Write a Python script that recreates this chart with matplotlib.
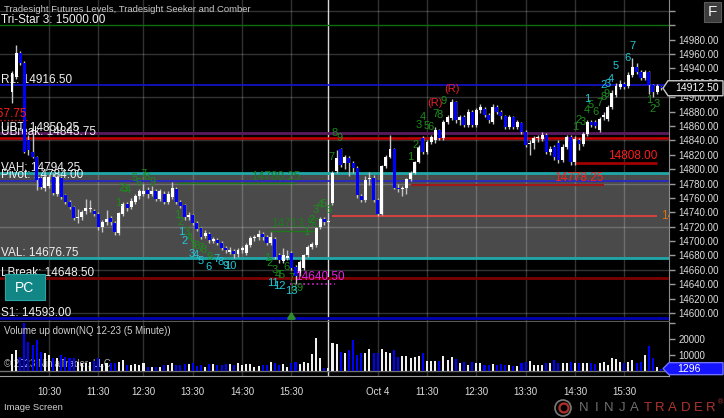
import matplotlib
matplotlib.use("Agg")
import matplotlib.pyplot as plt
from matplotlib.patches import Rectangle, Polygon, Circle
from matplotlib.transforms import blended_transform_factory, IdentityTransform

plt.rcParams['font.family'] = ['Liberation Sans', 'DejaVu Sans']

# ---------------- data ----------------
# 5 minute NQ 12-23 bars, session 1 (Oct 3) then session 2 (Oct 4)
d1_open = [14907, 14928, 14961, 14948, 14840, 14824, 14817, 14788, 14774, 14777,
           14789, 14765, 14788, 14764, 14754, 14747, 14732, 14733, 14742, 14744,
           14742, 14737, 14720, 14727, 14732, 14725, 14711, 14737, 14752, 14748,
           14755, 14762, 14766, 14771, 14766, 14769, 14759, 14766, 14755, 14761,
           14772, 14754, 14750, 14733, 14736, 14725, 14718, 14707, 14710, 14700,
           14701, 14697, 14690, 14685, 14686, 14682, 14688, 14683, 14694, 14704,
           14705, 14710, 14705, 14697, 14703, 14680, 14673, 14677, 14683, 14664,
           14655, 14663, 14681, 14692, 14695, 14720, 14731, 14727]
d1_close = [14934, 14961, 14948, 14824, 14826, 14817, 14785, 14775, 14789, 14789,
            14767, 14789, 14761, 14754, 14747, 14732, 14734, 14740, 14746, 14746,
            14738, 14720, 14726, 14731, 14727, 14712, 14739, 14752, 14746, 14756,
            14762, 14769, 14769, 14765, 14770, 14759, 14769, 14755, 14766, 14774,
            14754, 14749, 14733, 14736, 14725, 14717, 14706, 14711, 14701, 14703,
            14697, 14690, 14687, 14688, 14682, 14687, 14690, 14694, 14704, 14706,
            14710, 14705, 14697, 14705, 14678, 14674, 14680, 14679, 14663, 14651,
            14671, 14680, 14692, 14696, 14718, 14731, 14726, 14728]
d1_high = [14937, 14973, 14964, 14950, 14848, 14850, 14819, 14790, 14792, 14792,
           14795, 14792, 14790, 14766, 14757, 14749, 14745, 14743, 14758, 14757,
           14745, 14740, 14729, 14743, 14735, 14728, 14741, 14755, 14755, 14760,
           14765, 14772, 14780, 14775, 14776, 14772, 14772, 14770, 14770, 14782,
           14775, 14757, 14752, 14740, 14738, 14728, 14720, 14715, 14713, 14706,
           14704, 14700, 14693, 14692, 14689, 14690, 14693, 14697, 14707, 14709,
           14716, 14713, 14708, 14712, 14706, 14683, 14690, 14688, 14686, 14667,
           14674, 14682, 14694, 14699, 14720, 14734, 14733, 14729]
d1_low = [14892, 14926, 14945, 14822, 14820, 14815, 14771, 14772, 14770, 14774,
          14764, 14762, 14758, 14751, 14744, 14729, 14725, 14730, 14738, 14740,
          14735, 14716, 14712, 14722, 14723, 14708, 14708, 14735, 14742, 14745,
          14752, 14758, 14762, 14760, 14762, 14756, 14756, 14752, 14752, 14758,
          14752, 14746, 14730, 14730, 14722, 14714, 14703, 14704, 14698, 14697,
          14694, 14687, 14684, 14682, 14676, 14678, 14684, 14680, 14692, 14700,
          14702, 14702, 14694, 14694, 14675, 14670, 14670, 14674, 14660, 14640.5,
          14652, 14660, 14678, 14689, 14692, 14717, 14722, 14725]
d1_volume = [10200, 12900, 8800, 29600, 18100, 16000, 19200, 11900, 10800, 9800,
             7700, 7700, 9800, 8800, 7700, 7700, 5600, 4600, 4600, 5600,
             6000, 7700, 4000, 4600, 4600, 4600, 5600, 6700, 3500, 3500,
             4000, 3500, 4600, 2500, 2500, 2500, 2500, 3500, 3500, 4600,
             3500, 3500, 4000, 4000, 4600, 3100, 3500, 2500, 4000, 4000,
             3500, 3500, 4000, 4000, 3500, 4600, 3500, 4000, 4000, 2500,
             2900, 3500, 3500, 5200, 4600, 3500, 4000, 2500, 4600, 5600,
             4000, 5600, 4600, 10200, 20600, 7700, 1500, 1500]

d2_open = [14753, 14797, 14828, 14808, 14816, 14808, 14802, 14763, 14757, 14786,
           14788, 14757, 14738, 14804, 14817, 14828, 14774, 14772, 14774, 14786,
           14795, 14810, 14843, 14824, 14838, 14840, 14854, 14843, 14866, 14871,
           14893, 14868, 14872, 14861, 14880, 14861, 14882, 14884, 14876, 14866,
           14887, 14880, 14874, 14859, 14872, 14859, 14864, 14852, 14835, 14836,
           14843, 14842, 14848, 14824, 14831, 14837, 14813, 14831, 14845, 14810,
           14840, 14835, 14849, 14866, 14866, 14854, 14872, 14870, 14886, 14903,
           14914, 14919, 14916, 14931, 14942, 14935, 14927, 14935, 14917, 14907,
           14914]
d2_close = [14795, 14816, 14806, 14817, 14808, 14802, 14764, 14757, 14785, 14788,
            14757, 14738, 14804, 14817, 14828, 14774, 14772, 14773, 14786, 14795,
            14810, 14831, 14824, 14838, 14845, 14855, 14843, 14866, 14872, 14893,
            14868, 14872, 14861, 14880, 14861, 14882, 14886, 14875, 14868, 14887,
            14880, 14874, 14859, 14872, 14859, 14866, 14852, 14834, 14836, 14843,
            14845, 14848, 14824, 14828, 14817, 14813, 14831, 14845, 14810, 14842,
            14835, 14849, 14866, 14862, 14860, 14870, 14876, 14886, 14906, 14916,
            14919, 14914, 14931, 14942, 14935, 14927, 14935, 14917, 14907, 14916,
            14912.5]
d2_high = [14798, 14827, 14830, 14820, 14818, 14812, 14805, 14766, 14790, 14796,
           14792, 14760, 14806, 14820, 14847, 14830, 14780, 14776, 14788, 14797,
           14812, 14833, 14846, 14841, 14848, 14858, 14856, 14868, 14875, 14897,
           14895, 14876, 14875, 14884, 14882, 14885, 14890, 14886, 14878, 14890,
           14889, 14882, 14876, 14875, 14874, 14869, 14866, 14854, 14840, 14846,
           14848, 14852, 14850, 14832, 14834, 14840, 14835, 14848, 14847, 14846,
           14844, 14852, 14869, 14869, 14868, 14873, 14880, 14889, 14910, 14920,
           14924, 14921, 14935, 14955, 14947, 14938, 14938, 14937, 14919, 14918,
           14916]
d2_low = [14750, 14795, 14803, 14800, 14790, 14795, 14760, 14755, 14755, 14778,
          14755, 14735, 14736, 14802, 14815, 14772, 14768, 14762, 14766, 14784,
          14793, 14808, 14821, 14821, 14835, 14836, 14840, 14840, 14863, 14868,
          14864, 14862, 14858, 14858, 14858, 14858, 14878, 14872, 14864, 14863,
          14877, 14870, 14856, 14856, 14856, 14856, 14849, 14831, 14820, 14828,
          14838, 14839, 14821, 14820, 14813, 14808, 14810, 14828, 14806, 14806,
          14826, 14832, 14846, 14858, 14857, 14851, 14868, 14867, 14883, 14900,
          14911, 14911, 14913, 14928, 14932, 14924, 14924, 14905, 14900, 14904,
          14910]
d2_volume = [17500, 17000, 12000, 11000, 13000, 19000, 10000, 11000,
             11300, 13400, 10900, 11300, 13400, 11900, 11300, 12900, 8800, 9200,
             9200, 7700, 8300, 9200, 10900, 6300, 6300, 6300, 6300, 9200,
             6700, 8300, 7100, 5000, 5400, 3600, 5600, 4600, 5000, 3600,
             3600, 4200, 3600, 4200, 3600, 3600, 3000, 3000, 5000, 5600,
             6300, 3600, 3600, 3600, 5000, 5000, 6700, 4600, 5000, 5000,
             5600, 5000, 5000, 4600, 4600, 4600, 4200, 4600, 5600, 3600,
             7700, 7100, 5600, 4600, 5600, 6700, 4600, 5600, 9800, 15400,
             7700, 2500, 1296]

opens = d1_open + d2_open
closes = d1_close + d2_close
highs = d1_high + d2_high
lows = d1_low + d2_low
volumes = d1_volume + d2_volume
session_break = len(d1_open) - 1

time_ticks = [9, 21, 32, 44, 56, 68, 89, 101, 113, 125, 137, 149]
time_labels = ["10:30", "11:30", "12:30", "13:30", "14:30", "15:30",
               "Oct 4", "11:30", "12:30", "13:30", "14:30", "15:30"]

# Tradesight futures levels
level_names = ["Tri-Star 3", "R1", "UBT", "UBreak", "VAH", "Pivot", "VAL", "LBreak", "S1"]
level_values = [15000.00, 14916.50, 14850.25, 14843.75, 14794.25, 14784.00, 14676.75, 14648.50, 14593.00]
level_colors = ['#0c6e0c', '#1414d2', '#5a1a5e', '#c80000', '#1fa8a8', '#2828c8', '#1fa8a8', '#7c0000', '#0000b4']
level_widths = [1.0, 1.2, 2.0, 1.8, 2.0, 1.3, 2.0, 2.0, 2.0]

# Seeker / Comber counts: text, bar, price, kind
sig_text = ["1", "2", "3", "4", "5", "6", "7", "8", "9",
            "1", "2", "3", "4", "5", "6", "7", "8", "9",
            "1", "2", "3", "4", "5", "6", "7", "8", "9", "10",
            "1", "2", "3", "4", "5", "6", "7", "8", "9",
            "11", "12", "13",
            "1", "2", "3", "4", "5", "6", "7", "8", "9",
            "1", "2", "3", "4", "5", "6", "7", "8", "9", "(R)", "(R)",
            "1", "2", "3", "4", "5", "6", "7", "8", "9",
            "1", "2", "3", "4", "5", "6", "7",
            "1", "2", "3"]
sig_bar = [25.8, 26.6, 27.4, 28.1, 29.9, 30.9, 31.9, 32.8, 34.1,
           40.1, 41.1, 42.4, 43.2, 44.1, 45.0, 45.9, 46.7, 48.0,
           41.1, 41.9, 43.7, 44.8, 45.9, 47.9, 49.7, 50.8, 51.9, 53.2,
           62.1, 62.8, 64.0, 64.8, 65.7, 66.9, 68.1, 68.6, 70.1,
           63.6, 65.0, 67.9,
           71.7, 73.0, 73.9, 75.0, 75.8, 77.0, 77.8, 78.6, 79.8,
           97.0, 98.1, 98.9, 99.9, 100.8, 101.8, 103.0, 104.0, 105.0, 103.0, 107.0,
           137.0, 137.9, 138.9, 139.9, 140.9, 141.9, 142.9, 144.0, 144.8,
           140.0, 144.0, 144.9, 145.7, 146.8, 149.8, 150.9,
           155.1, 155.9, 156.9]
sig_price = [14753, 14774, 14772, 14771, 14788, 14781, 14793, 14789, 14782,
             14736, 14727, 14713, 14704, 14695, 14693, 14691, 14688, 14678,
             14713, 14700.5, 14682, 14681, 14673, 14664, 14675, 14671, 14665, 14665,
             14676, 14669, 14660, 14653, 14653, 14664, 14648, 14635, 14635,
             14642, 14637, 14631,
             14713, 14729, 14743, 14750, 14751.5, 14743, 14817, 14850, 14843,
             14817, 14834, 14861, 14873, 14860, 14859, 14877, 14875, 14895, 14892, 14911,
             14859, 14868, 14866, 14882, 14889, 14880, 14892, 14901, 14905,
             14897, 14917, 14918, 14926, 14943, 14954, 14971,
             14896, 14883, 14891]
sig_kind = (["seek"] * 9 + ["seek"] * 9 + ["comb"] * 10 + ["seek"] * 9 + ["comb"] * 3 +
            ["seek"] * 9 + ["seek"] * 9 + ["risk"] * 2 + ["seek"] * 9 + ["comb"] * 7 + ["seek"] * 3)
kind_color = {"seek": "#1c8c1c", "comb": "#22c8d8", "risk": "#e8202a"}

# ---------------- figure ----------------
W, H = 724, 418
fig = plt.figure(figsize=(W / 100, H / 100), dpi=100, facecolor='black')


def fx(px):
    return px / W


def fy(py):
    return 1 - py / H


ax = fig.add_axes([0, fy(321), fx(669), 321 / H], facecolor='black')
axv = fig.add_axes([0, fy(376), fx(669), 54 / H], facecolor='black', sharex=ax)

ax.set_xlim(-2.92, 159.9)
ax.set_ylim(14588.9, 15035.2)
axv.set_ylim(-3310, 30440)

# value area + grid
ax.axhspan(level_values[6], level_values[4], color='#4a4a4a', lw=0, zorder=1)
for p in range(14600, 15021, 60):
    ax.axhline(p, color='white', alpha=0.2, lw=1, zorder=2)
for t in time_ticks:
    ax.axvline(t, color='white', alpha=0.2, lw=1, zorder=2)
    axv.axvline(t, color='white', alpha=0.2, lw=1, zorder=1)
ax.axvline(session_break, color='#d8d8d8', lw=1, zorder=2.5)
axv.axvline(session_break, color='#d8d8d8', lw=1, zorder=1.5)

# levels
ymix = blended_transform_factory(ax.transAxes, ax.transData)
for name, val, col, lw in zip(level_names, level_values, level_colors, level_widths):
    ax.axhline(val, color=col, lw=lw, zorder=3)
    ax.annotate(f"{name}: {val:.2f}", xy=(0, val), xycoords=ymix, xytext=(0.8, 1.6),
                textcoords='offset points', ha='left', va='baseline',
                color='#f0f0f0', fontsize=8.5, zorder=4)

# extra drawn levels
ax.hlines(14808.00, 137, 157, color='#a00000', lw=2, zorder=3)
ax.text(157, 14810, "14808.00", color='#ff1a1a', fontsize=8.5, ha='right', va='bottom', zorder=6)
ax.hlines(14778.25, 97, 144, color='#a01818', lw=1.5, zorder=3)
ax.text(144, 14780, "14778.25", color='#ff2020', fontsize=8.5, ha='right', va='bottom', zorder=3.5)
ax.hlines(14735.0, 77.8, 157, color='#f04040', lw=1.2, zorder=3)
ax.text(158, 14735, "14735.00", color='#e07010', fontsize=8.5, ha='left', va='center',
        zorder=6, clip_on=True)
ax.hlines(14780.25, 40.2, 68.9, color='#1c7a1c', lw=1, zorder=3)
ax.text(64.3, 14781, "14780.25", color='#1c7a1c', fontsize=8.5, ha='center', va='bottom', zorder=3.5)
ax.hlines(14713.50, 62.8, 73.8, color='#1c7a1c', lw=1, zorder=3)
ax.text(69.0, 14715, "14713.50", color='#1c7a1c', fontsize=8.5, ha='center', va='bottom', zorder=3.5)
ax.hlines(14640.50, 67.7, 78.6, color='#d020d0', lw=1.2, ls=':', zorder=6)
ax.text(68.9, 14641.5, "14640.50", color='#e020e0', fontsize=8.5, ha='left', va='bottom', zorder=6)
ax.hlines(14867.75, -3, 3.6, color='#e01010', lw=1, ls=':', zorder=6)
ax.text(3.6, 14869, "14867.75", color='#ff1a1a', fontsize=8.5, ha='right', va='bottom',
        zorder=6, clip_on=True)

# candles
bars = list(range(len(opens)))
up = [c >= o for o, c in zip(opens, closes)]
body_col = ['#ffffff' if u else '#0000ff' for u in up]
ax.vlines(bars, lows, highs, color='#c4c4c4', lw=1, zorder=5)
ax.bar(bars, [max(abs(c - o), 1.3) for o, c in zip(opens, closes)],
       bottom=[min(o, c) for o, c in zip(opens, closes)],
       width=0.72, color=body_col, lw=0, zorder=5.5)

# seeker / comber labels
for t, b, p, k in zip(sig_text, sig_bar, sig_price, sig_kind):
    ax.text(b, p, t, color=kind_color[k], fontsize=8, ha='center', va='center', zorder=7)

# up arrow under the low
ax.annotate("", xy=(68, 14606), xytext=(68, 14591),
            arrowprops=dict(arrowstyle='-|>,head_width=0.22,head_length=0.35',
                            color='#2e8b2e', lw=1.8), zorder=7)

# volume
vol_col = ['#f0f0f0' if u else '#0000ff' for u in up]
axv.bar(bars, volumes, width=0.5, color=vol_col, lw=0, zorder=3)
axv.axhline(0, color='#707070', lw=1, zorder=2)
axv.text(0.006, 0.83, "Volume up down(NQ 12-23 (5 Minute))", transform=axv.transAxes,
         color='#cfcfcf', fontsize=7, ha='left', va='center', zorder=5)
axv.text(0.006, 0.22, "\u00a9 2023 NinjaTrader, LLC", transform=axv.transAxes,
         color='#a8a8a8', fontsize=7, ha='left', va='center', zorder=2.5)

# axes styling
for a in (ax, axv):
    for s in ('top', 'left'):
        a.spines[s].set_visible(False)
    a.spines['right'].set_color('#8a8a8a')
    a.yaxis.tick_right()
ax.spines['bottom'].set_color('#5a5a5a')
axv.spines['bottom'].set_color('#a0a0a0')

price_ticks = list(range(14600, 15021, 20))
ax.set_yticks(price_ticks)
ax.set_yticklabels([f"{p:.2f}" if p <= 14980 else "" for p in price_ticks])
ax.tick_params(axis='y', colors='#9a9a9a', labelcolor='#dedede', labelsize=7,
               length=4, width=1, pad=3)
ax.tick_params(axis='x', bottom=False, labelbottom=False)

axv.set_yticks([10000, 20000, 30000])
axv.set_yticklabels(["10000", "20000", ""])
axv.tick_params(axis='y', colors='#9a9a9a', labelcolor='#dedede', labelsize=7,
                length=4, width=1, pad=3)
axv.set_xticks(time_ticks)
axv.set_xticklabels(time_labels)
axv.tick_params(axis='x', length=0, labelcolor='#dedede', labelsize=7, pad=8)

# ---------------- overlays (pixel space) ----------------
pix = IdentityTransform()

fig.text(fx(4), fy(9), "Tradesight Futures Levels, Tradesight Seeker and Comber",
         color='#c8c8c8', fontsize=6.8, ha='left', va='center')

fig.add_artist(Rectangle((704, H - 22), 17, 20, transform=pix, fc='#3c3c3c', ec='#5a5a5a', lw=0.8))
fig.text(fx(712.5), fy(12), "F", color='#f0f0f0', fontsize=11, ha='center', va='center')

fig.add_artist(Rectangle((5, H - 300), 40, 26, transform=pix, fc='#128585', ec='#2aa5a5', lw=0.8))
fig.text(fx(25), fy(287.5), "PC", color='#ffffff', fontsize=10, ha='center', va='center')

# last price marker
yd = ax.transData.transform((0, closes[-1]))[1]
fig.add_artist(Polygon([(663, yd), (668, yd + 7.5), (723, yd + 7.5), (723, yd - 7.5), (668, yd - 7.5)],
                       closed=True, transform=pix, fc='black', ec='#c8c8c8', lw=1))
fig.text(697 / W, yd / H, f"{closes[-1]:.2f}", color='#ffffff', fontsize=7.5, ha='center', va='center')

# last volume marker
yv = axv.transData.transform((0, volumes[-1]))[1]
fig.add_artist(Polygon([(663, yv), (669, yv + 6), (723, yv + 6), (723, yv - 6), (669, yv - 6)],
                       closed=True, transform=pix, fc='#1414ff', ec='#7070ff', lw=1))
fig.text(689 / W, yv / H, f"{volumes[-1]}", color='#ffffff', fontsize=7.5, ha='center', va='center')

fig.text(fx(4), fy(408), "Image Screen", color='#d0d0d0', fontsize=6.8, ha='left', va='center')

# NinjaTrader logo
fig.add_artist(Circle((563, H - 408), 8, transform=pix, fc='none', ec='#7a7a7a', lw=1.2))
fig.add_artist(Circle((564, H - 408), 4.5, transform=pix, fc='none', ec='#b03028', lw=1.6))
logo = "NINJATRADER"
for k, ch in enumerate(logo):
    fig.text(fx(583.7 + k * 12.73), fy(408), ch, color='#6e6e6e' if k < 5 else '#b0342c',
             fontsize=9.5, ha='center', va='center')
fig.text(fx(720), fy(403), "\u00ae", color='#b0342c', fontsize=5, ha='center', va='center')

fig.savefig("out.png", dpi=100, facecolor='black')
